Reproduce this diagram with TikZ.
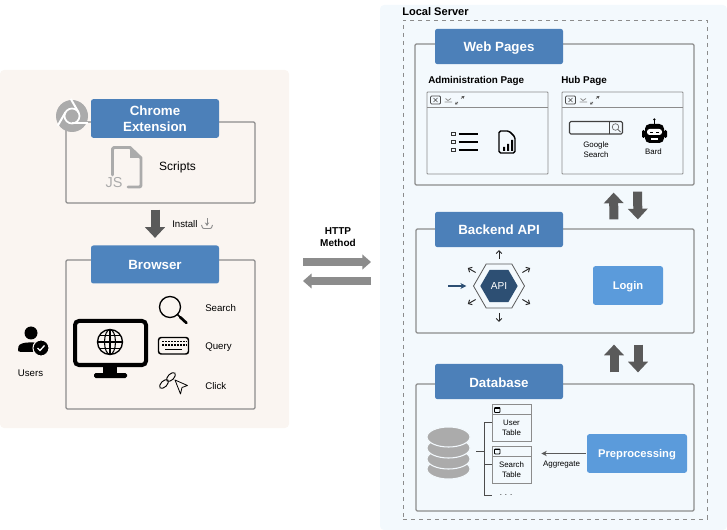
\documentclass[tikz,border=0pt]{standalone}
\usepackage{fontspec}
\setmainfont{Liberation Sans}
\usetikzlibrary{arrows.meta,fit,shapes.geometric}
\definecolor{zoneleft}{HTML}{FAF5F1}
\definecolor{zoneright}{HTML}{F3F9FD}
\definecolor{tabblue}{HTML}{4C80B9}
\definecolor{stepblue}{HTML}{5B9BDB}
\definecolor{hexblue}{HTML}{2D4F73}
\definecolor{framegray}{HTML}{8C8C8C}
\definecolor{icongray}{HTML}{ABABAB}
\definecolor{fatgray}{HTML}{5A5A5A}
\tikzset{
  zonebox/.style={rounded corners=3pt,inner sep=0pt,draw=none},
  panelbox/.style={draw=framegray,line width=0.9pt,rounded corners=1pt,inner sep=0pt},
  winbox/.style={draw=framegray,line width=0.7pt,rounded corners=0.6pt,inner sep=0pt},
  tabbox/.style={fill=tabblue,draw=none,rounded corners=1.8pt,text=white,align=center,minimum width=96pt,minimum height=26.5pt,inner sep=0pt,
    font=\fontsize{10pt}{12pt}\selectfont\bfseries},
  stepbox/.style={fill=stepblue,draw=none,rounded corners=1.8pt,text=white,minimum height=29pt,inner sep=0pt,text height=6pt,text depth=0pt,
    font=\fontsize{8.4pt}{10pt}\selectfont\bfseries},
  tablebox/.style={draw=framegray,line width=0.7pt,inner sep=0pt},
  fatarrow/.style={draw=fatgray,line width=6.75pt,-{Triangle[length=8pt,width=14.5pt]}},
  httparrow/.style={draw=framegray,line width=6pt,-{Triangle[length=6.5pt,width=11pt]}},
  labelmid/.style={inner sep=0pt,align=center,font=\fontsize{7.25pt}{9pt}\selectfont},
  labelsmall/.style={inner sep=0pt,align=center,font=\fontsize{5.9pt}{7.5pt}\selectfont},
  labelbold/.style={inner sep=0pt,align=center,font=\fontsize{7.4pt}{9pt}\selectfont\bfseries},
}
\begin{document}
\begin{tikzpicture}[x=0.75pt,y=0.75pt,yscale=-1,xscale=1]
\useasboundingbox (0,0) rectangle (727,530);
%Shape: Zones
\node (leftzone) [zonebox,fill=zoneleft,fit={(0,70) (289,428)}] {};
\node (rightzone) [zonebox,fill=zoneright,fit={(380,5) (727,530)}] {};
\node (serverframe) [draw=framegray,dashed,line width=0.6pt,inner sep=0pt,fit={(403,20) (707,519)}] {};
% Text Node
\node (serverlabel) [anchor=west,inner sep=0pt,font=\fontsize{8.3pt}{10pt}\selectfont\bfseries] at (402,12) {Local Server};

%Shape: Chrome Extension
\node (extpanel) [panelbox,fit={(66,122) (255,203)}] {};
\node (exttab) [tabbox,minimum height=29pt] at (155,118.5) {Chrome\\Extension};
\fill [icongray] (72,116) circle (16);
\draw [white,line width=1.3pt] (72,116) circle (7.5);
\foreach \a in {-30,90,210}
  \draw [white,line width=1.5pt] ([shift=(\a:7.5)]72,116) -- ++(\a+90:-15.5);
\draw [icongray,line width=2.2pt,line join=round,line cap=round] (112.5,175) -- (112.5,149) .. controls (112.5,148) and (113,147.5) .. (114,147.5) -- (130,147.5) -- (141,158) -- (141,185) .. controls (141,186.5) and (140.5,187) .. (139,187) -- (128,187);
\fill [icongray] (130,147.5) -- (141,158) -- (130,158) -- cycle;
\node (jslabel) [inner sep=0pt,text=icongray,font=\fontsize{10.8pt}{12pt}\selectfont] at (114,183) {JS};
\node (scriptlabel) [inner sep=0pt,font=\fontsize{9pt}{10pt}\selectfont] at (177.5,167) {Scripts};

%Shape: Browser
\node (browserpanel) [panelbox,fit={(66,260) (255,409)}] {};
\node (browsertab) [tabbox,fill=tabblue!85!stepblue,minimum height=28.5pt,text height=7pt,text depth=0pt] at (155,264.5) {Browser};
\draw [fatarrow,shorten <=4.5pt,shorten >=5.5pt] (browsertab.north |- extpanel.south) -- (browsertab.north);
\node (installlabel) [labelmid,anchor=west] at (172,224.5) {Install};
\draw [framegray,line width=0.7pt,-{Stealth[length=2.6pt,width=3.2pt]}] (207,218.5) -- (207,226);
\draw [framegray,line width=0.7pt] (201.5,225) .. controls (202,228) and (203,228.5) .. (204,228.5) -- (210,228.5) .. controls (211,228.5) and (212,228) .. (212.5,225);
% monitor
\draw [black,line width=3pt,rounded corners=3pt] (75,321) rectangle (146,365);
\fill [black] (103,366) rectangle (117,375);
\fill [black,rounded corners=1.2pt] (94,373) rectangle (127,378);
\draw [black,line width=1pt] (110,342) circle (12.5);
\draw [black,line width=0.8pt] (110,342) ellipse (5.5 and 12.5);
\draw [black,line width=0.8pt] (110,329.5) -- (110,354.5) (97.5,342) -- (122.5,342) (99.5,335.5) -- (120.5,335.5) (99.5,348.5) -- (120.5,348.5);
% magnifier
\draw [black,line width=1pt] (170,307) circle (10.5);
\draw [black,line width=1.2pt] (177.5,314.5) -- (180,317);
\draw [black,line width=2pt,line cap=round] (180,317) -- (186.5,323);
\node (searchlabel) [labelmid,anchor=west] at (205,308.5) {Search};
% keyboard
\draw [black,line width=1.1pt,rounded corners=2pt] (158.5,337.5) rectangle (188.5,354);
\foreach \kx in {162,165,168,171,174,177,180,183,185.5}
  \draw [black,line width=0.9pt] (\kx,341.5) -- ++(1.6,0) (\kx,345) -- ++(1.6,0);
\draw [black,line width=0.9pt] (165,349.5) -- (182,349.5);
\node (querylabel) [labelmid,anchor=west] at (205,347.5) {Query};
% link and cursor
\draw [black,line width=0.7pt,rotate around={-45:(164,384)}] (164,384) ellipse (5.5 and 3);
\draw [black,line width=0.7pt,rotate around={-45:(171,377)}] (171,377) ellipse (5.5 and 3);
\draw [black,line width=0.6pt,line join=round] (175,380) -- (187.5,385.5) -- (182,387.5) -- (180.5,394) -- cycle;
\node (clicklabel) [labelmid,anchor=west] at (205,386.5) {Click};
% user
\fill [black] (31,333) circle (6.5);
\fill [black,rounded corners=2pt] (18,352) -- (18,349) .. controls (19,344) and (24,342.5) .. (31,342.5) .. controls (36,342.5) and (40,344) .. (41,348) -- (35,352) -- cycle;
\draw [black,fill=black,line width=0pt] (41,348) circle (7.5);
\draw [zoneleft,line width=0.8pt] (41,348) circle (8);
\draw [white,line width=1pt] (37.5,348) -- (40,350.5) -- (44.5,345.5);
\node (userlabel) [labelmid] at (30.5,373) {Users};

%Shape: HTTP arrows
\node (httplabel) [labelbold,font=\fontsize{7.5pt}{9pt}\selectfont\bfseries] at (338,237) {HTTP\\Method};
\coordinate (httpleft) at (303,262);
\coordinate (httpright) at (371,262);
\coordinate (backleft) at (303,281);
\coordinate (backright) at (371,281);
\draw [httparrow] (httpleft) -- (httpright);
\draw [httparrow] (backright) -- (backleft);

%Shape: Web Pages
\node (webpanel) [panelbox,fit={(415,44) (694,185)}] {};
\node (webtab) [tabbox,text height=7pt,text depth=0pt] at (499,46.5) {Web Pages};
\node (adminlabel) [labelbold,anchor=west] at (428,80.5) {Administration Page};
\node (hublabel) [labelbold,anchor=west] at (561,80.5) {Hub Page};
\node (adminwin) [winbox,fit={(427,92) (548,174)}] {};
\node (hubwin) [winbox,fit={(562,92) (683,174)}] {};
\foreach \wx in {0,135} {
  \begin{scope}[xshift=\wx*0.75pt]
    \draw [framegray,line width=0.7pt] (427,107) -- (548,107);
    \draw [black!70,line width=0.6pt,rounded corners=0.8pt] (430.5,96) rectangle (440.5,104);
    \draw [black!70,line width=0.5pt] (433.5,98) -- (437.5,102) (437.5,98) -- (433.5,102);
    \draw [framegray,line width=0.6pt] (444.5,102) -- (452,102) (445.5,98.5) -- (448,100.5) -- (451,98.5);
    \draw [black!65,line width=0.5pt,-{Stealth[length=2pt,width=2.4pt]}] (458,102) -- (455,104.5);
    \draw [black!65,line width=0.5pt,-{Stealth[length=2pt,width=2.4pt]}] (461,98.5) -- (464.5,96);
  \end{scope}
}
% list and report
\foreach \ly in {134,142,150} {
  \draw [black!80,line width=0.5pt] (451.5,\ly-1.7) rectangle (455.5,\ly+1.7);
  \draw [black,line width=1.1pt] (458.5,\ly) -- (478,\ly);
}
\draw [black,line width=1.1pt,line join=round,rounded corners=1.2pt] (499,131) -- (509,131) -- (515,137) -- (515,153) -- (499,153) -- cycle;
\fill [black] (503,147) rectangle (505,151) (507,144) rectangle (509,151) (511,140) rectangle (513,151);
% search box and bot
\draw [black!75,line width=0.8pt,rounded corners=1pt] (569.5,121.5) rectangle (622.5,134);
\draw [black!75,line width=0.8pt] (609.5,121.5) -- (609.5,134);
\draw [black!60,line width=0.5pt] (615.5,127) circle (3.3);
\draw [black!60,line width=0.7pt] (618,129.5) -- (620.5,132);
\node (googlelabel) [labelsmall] at (596,150) {Google\\Search};
\fill [black,rounded corners=3.5pt] (645,124) rectangle (664,143);
\fill [black] (654.3,119.5) circle (1.3);
\draw [black,line width=0.8pt] (654.3,120) -- (654.3,124);
\fill [black,rounded corners=1pt] (642,130) rectangle (645,138) (664,130) rectangle (667,138);
\fill [white,rounded corners=2pt] (647,129) rectangle (662,135);
\draw [black,line width=0.7pt] (650,132) -- (653,132) (656,132) -- (659,132);
\draw [white,line width=0.8pt] (651,139) -- (658,139);
\node (bardlabel) [labelsmall] at (653.5,151.5) {Bard};

%Shape: Backend API
\node (backendpanel) [panelbox,fit={(416,229) (694,333)}] {};
\node (backendtab) [tabbox,text height=7pt,text depth=0pt] at (499,229.5) {Backend API};
\draw [fatarrow,shorten <=6.75pt,shorten >=5.25pt] ([xshift=44.25pt]backendpanel.north) -- ([xshift=44.25pt]webpanel.south);
\draw [fatarrow,shorten <=4.5pt,shorten >=6.75pt] ([xshift=62.25pt]webpanel.south) -- ([xshift=62.25pt]backendpanel.north);
\node (apiouter) [draw=black!65,line width=0.6pt,regular polygon,regular polygon sides=6,minimum size=38.25pt,inner sep=0pt] at (499,286) {};
\node (apihex) [fill=hexblue,text=white,regular polygon,regular polygon sides=6,minimum size=28pt,inner sep=0pt,font=\fontsize{7.6pt}{9pt}\selectfont] at (499,286) {API};
\coordinate (apiin) at (448,286);
\draw [hexblue,line width=1pt,-{Stealth[length=4.5pt,width=4.5pt]},shorten >=5pt] (apiin) -- (apiouter.west);
\foreach \a in {30,90,150,210,270,330}
  \draw [black!85,line width=0.7pt,-{Straight Barb[length=2.2pt,width=4.2pt]}] ([shift=(\a:27)]apihex.center) -- ([shift=(\a:36)]apihex.center);
\node (loginbox) [stepbox,minimum width=52.5pt] at (628,285.5) {Login};

%Shape: Database
\node (dbpanel) [panelbox,fit={(416,384) (694,511)}] {};
\node (dbtab) [tabbox,text height=9pt,text depth=0pt] at (499,381.5) {Database};
\draw [fatarrow,shorten <=8.25pt,shorten >=8.25pt] ([xshift=44.25pt]dbpanel.north) -- ([xshift=44.25pt]backendpanel.south);
\draw [fatarrow,shorten <=8.25pt,shorten >=8.25pt] ([xshift=62.25pt]backendpanel.south) -- ([xshift=62.25pt]dbpanel.north);
\foreach \dy in {469,459,448,437}
  \draw [fill=icongray,draw=zoneright,line width=0.8pt] (448.5,\dy) ellipse (21.5 and 10);
\node (usertable) [tablebox,fit={(492,404) (531,441)}] {};
\node (searchtable) [tablebox,fit={(492,446) (531,483)}] {};
\draw [framegray,line width=0.7pt] (492,414.5) -- (531,414.5) (492,456.5) -- (531,456.5);
\foreach \ty in {410,451.5} {
  \draw [black,line width=0.6pt,rounded corners=0.6pt] (494.5,\ty-2.5) rectangle (500,\ty+2.5);
  \draw [black,line width=1pt] (494.5,\ty-2) -- (500,\ty-2);
}
\node (userlabelb) [labelsmall] at (511.5,428) {User\\Table};
\node (searchlabelb) [labelsmall] at (511.5,469.5) {Search\\Table};
\node (moredots) [labelsmall,minimum width=21pt,minimum height=6pt] at (506,495) {. . .};
\coordinate (dbend) at (476,451);
\coordinate (treehub) at (484,451);
\draw [black!70,line width=0.7pt] (dbend) -- (treehub);
\draw [black!70,line width=0.7pt] (treehub) |- (usertable.west);
\draw [black!70,line width=0.7pt] (treehub) |- (searchtable.west);
\draw [black!70,line width=0.7pt] (treehub) |- (moredots.west);
\node (prepbox) [stepbox,minimum width=75pt] at (637,453.5) {Preprocessing};
\draw [fatgray,line width=1pt,-{Stealth[length=4pt,width=4pt]},shorten <=0.75pt,shorten >=7.5pt] (prepbox.west) -- (prepbox.west -| searchtable.east);
\node (agglabel) [labelsmall,font=\fontsize{6pt}{7.5pt}\selectfont] at (561.5,464.5) {Aggregate};
\end{tikzpicture}
\end{document}
